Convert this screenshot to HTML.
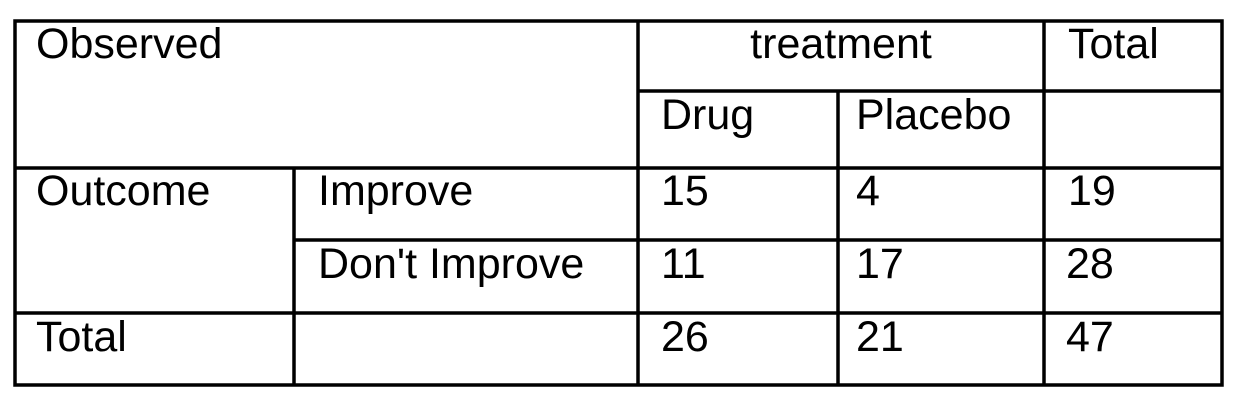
<!DOCTYPE html>
<html><head><meta charset="utf-8"><style>
html,body{margin:0;padding:0;background:#fff;width:1238px;height:404px;overflow:hidden}
svg text{font-family:"Liberation Sans",Arial,sans-serif;font-size:43px;fill:#000}
</style></head><body>
<svg width="1238" height="404" viewBox="0 0 1238 404">
<g stroke="#000" stroke-width="3.5" fill="none">
<rect x="15" y="21" width="1207" height="364"/>
<line x1="638" y1="91" x2="1222" y2="91"/>
<line x1="15" y1="168" x2="1222" y2="168"/>
<line x1="294" y1="240" x2="1222" y2="240"/>
<line x1="15" y1="313" x2="1222" y2="313"/>
<line x1="294" y1="168" x2="294" y2="385"/>
<line x1="638" y1="21" x2="638" y2="385"/>
<line x1="838" y1="91" x2="838" y2="385"/>
<line x1="1044" y1="21" x2="1044" y2="385"/>
</g>
<text x="36" y="58">Observed</text>
<text x="841" y="58" text-anchor="middle">treatment</text>
<text x="1068" y="58">Total</text>
<text x="661" y="129">Drug</text>
<text x="856" y="129">Placebo</text>
<text x="36" y="205">Outcome</text>
<text x="318" y="205">Improve</text>
<text x="661" y="205">15</text>
<text x="856" y="205">4</text>
<text x="1068" y="205">19</text>
<text x="318" y="278">Don't Improve</text>
<text x="661" y="278">11</text>
<text x="856" y="278">17</text>
<text x="1066" y="278">28</text>
<text x="36" y="351">Total</text>
<text x="661" y="351">26</text>
<text x="856" y="351">21</text>
<text x="1066" y="351">47</text>
</svg>
</body></html>
